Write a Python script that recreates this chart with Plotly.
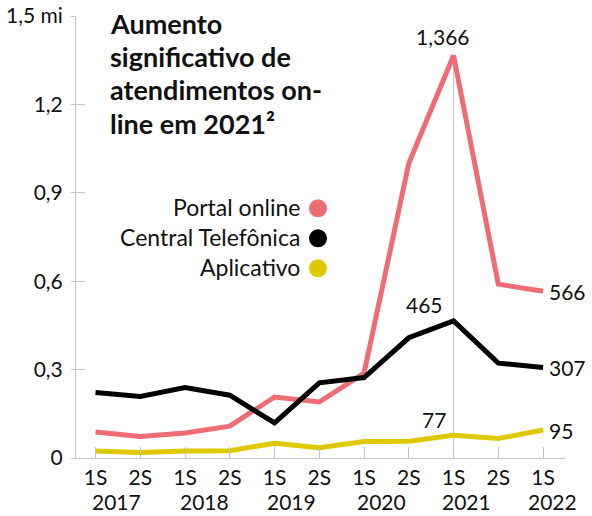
import plotly.graph_objects as go

periods = ["1S 2017", "2S 2017", "1S 2018", "2S 2018", "1S 2019", "2S 2019",
           "1S 2020", "2S 2020", "1S 2021", "2S 2021", "1S 2022"]
sem_labels = ["1S", "2S", "1S", "2S", "1S", "2S", "1S", "2S", "1S", "2S", "1S"]
years = ["2017", "2018", "2019", "2020", "2021", "2022"]
portal = [0.088, 0.073, 0.085, 0.108, 0.207, 0.19, 0.288, 1.0, 1.366, 0.59, 0.566]
central = [0.222, 0.209, 0.239, 0.213, 0.119, 0.255, 0.273, 0.408, 0.465, 0.322, 0.307]
aplicativo = [0.024, 0.019, 0.024, 0.025, 0.05, 0.035, 0.056, 0.057, 0.077, 0.066, 0.095]
y_ticks = [0, 0.3, 0.6, 0.9, 1.2, 1.5]
y_ticktext = ["0", "0,3", "0,6", "0,9", "1,2", "1,5 mi"]
series_names = ["Portal online", "Central Telefônica", "Aplicativo"]
colors = ["#EE6C73", "#000000", "#DEC800"]
title_lines = ["Aumento", "significativo de", "atendimentos on-", "line em 2021²"]

FONT = "Lato"
NUM = 21
W, H = 592, 516
L, R, T, B = 76, 27, 15.6, 58.3
PW, PH = W - L - R, H - T - B

def xp(px):
    return (px - L) / PW

def yp(py):
    return (H - B - py) / PH

xi = list(range(len(periods)))
fig = go.Figure()
for vals, name, col in zip([portal, central, aplicativo], series_names, colors):
    fig.add_trace(go.Scatter(x=xi, y=vals, mode="lines", name=name,
                             line=dict(color=col, width=5), showlegend=False,
                             hoverinfo="skip"))

# vertical reference line at peak
peak_i = portal.index(max(portal))
fig.add_shape(type="line", x0=peak_i, x1=peak_i, y0=0, y1=portal[peak_i],
              xref="x", yref="y", line=dict(color="#c8c8c8", width=1), layer="below")

annotations = []
# title
for k, line in enumerate(title_lines):
    annotations.append(dict(text=line, xref="paper", yref="paper",
                            x=xp(108), y=yp(23 + 33.3 * k), xanchor="left", yanchor="middle",
                            showarrow=False, font=dict(family=FONT, size=27, color="#111111",
                                                       weight="bold")))
# legend
for k, (name, col) in enumerate(zip(series_names, colors)):
    cy = 207 + 30 * k
    annotations.append(dict(text=name, xref="paper", yref="paper", x=xp(302), y=yp(cy),
                            xanchor="right", yanchor="middle", showarrow=False,
                            font=dict(family=FONT, size=23, color="#111111")))
    fig.add_shape(type="circle", xref="paper", yref="paper", xsizemode="pixel",
                  ysizemode="pixel", xanchor=xp(318), yanchor=yp(cy + 1),
                  x0=-9, x1=9, y0=-9, y1=9, fillcolor=col, line=dict(width=0))

# data labels
lab_font = dict(family=FONT, size=NUM, color="#111111")
def fmt(v):
    return str(round(v * 1000)) if v < 1 else f"{v:.3f}".replace(".", ",")
annotations.append(dict(text=fmt(portal[peak_i]), x=peak_i, y=portal[peak_i], xref="x", yref="y",
                        showarrow=False, yanchor="bottom", xanchor="center", xshift=-11, yshift=4,
                        font=lab_font))
annotations.append(dict(text=fmt(central[peak_i]), x=peak_i, y=central[peak_i], xref="x", yref="y",
                        showarrow=False, yanchor="bottom", xanchor="center", xshift=-29, yshift=2,
                        font=lab_font))
annotations.append(dict(text=fmt(aplicativo[peak_i]), x=peak_i, y=aplicativo[peak_i], xref="x", yref="y",
                        showarrow=False, yanchor="bottom", xanchor="center", xshift=-20, yshift=1,
                        font=lab_font))
last = len(periods) - 1
for vals in (portal, central, aplicativo):
    annotations.append(dict(text=fmt(vals[last]), x=last, y=vals[last], xref="x", yref="y",
                            showarrow=False, xanchor="left", yanchor="middle", xshift=4,
                            font=lab_font))
# year labels
year_pos = [0.46, 2.44, 4.39, 6.40, 8.30, 10.22]
for yr, xv in zip(years, year_pos):
    annotations.append(dict(text=yr, x=xv, y=yp(501), xref="x", yref="paper",
                            showarrow=False, xanchor="center", yanchor="middle",
                            font=dict(family=FONT, size=NUM, color="#111111")))

fig.update_layout(
    width=W, height=H, margin=dict(l=L, r=R, t=T, b=B, autoexpand=False),
    paper_bgcolor="white", plot_bgcolor="white",
    font=dict(family=FONT, size=NUM, color="#111111"),
    annotations=annotations,
    xaxis=dict(range=[-0.436, 10.49], tickvals=xi, ticktext=sem_labels, automargin=False,
               showgrid=False, zeroline=False, showline=True, linecolor="#c4c4c4", linewidth=1,
               ticks="inside", ticklen=11, tickcolor="#c4c4c4", tickwidth=1,
               ticklabelstandoff=1,
               tickfont=dict(family=FONT, size=NUM, color="#111111")),
    yaxis=dict(range=[0, 1.5], tickvals=y_ticks, ticktext=y_ticktext, automargin=False,
               showgrid=False, zeroline=False, showline=True, linecolor="#c4c4c4", linewidth=1,
               ticks="outside", ticklen=4, tickcolor="#c4c4c4", tickwidth=1,
               ticklabelstandoff=4,
               tickfont=dict(family=FONT, size=NUM, color="#111111")),
    yaxis2=dict(range=[0, 1.5], overlaying="y", tickvals=y_ticks, showticklabels=False,
                automargin=False,
                showgrid=False, zeroline=False, showline=False,
                ticks="inside", ticklen=9, tickcolor="#c4c4c4", tickwidth=1, side="left"),
)
fig.add_trace(go.Scatter(x=[None], y=[None], yaxis="y2", showlegend=False, hoverinfo="skip"))

fig.write_html("out.html")
